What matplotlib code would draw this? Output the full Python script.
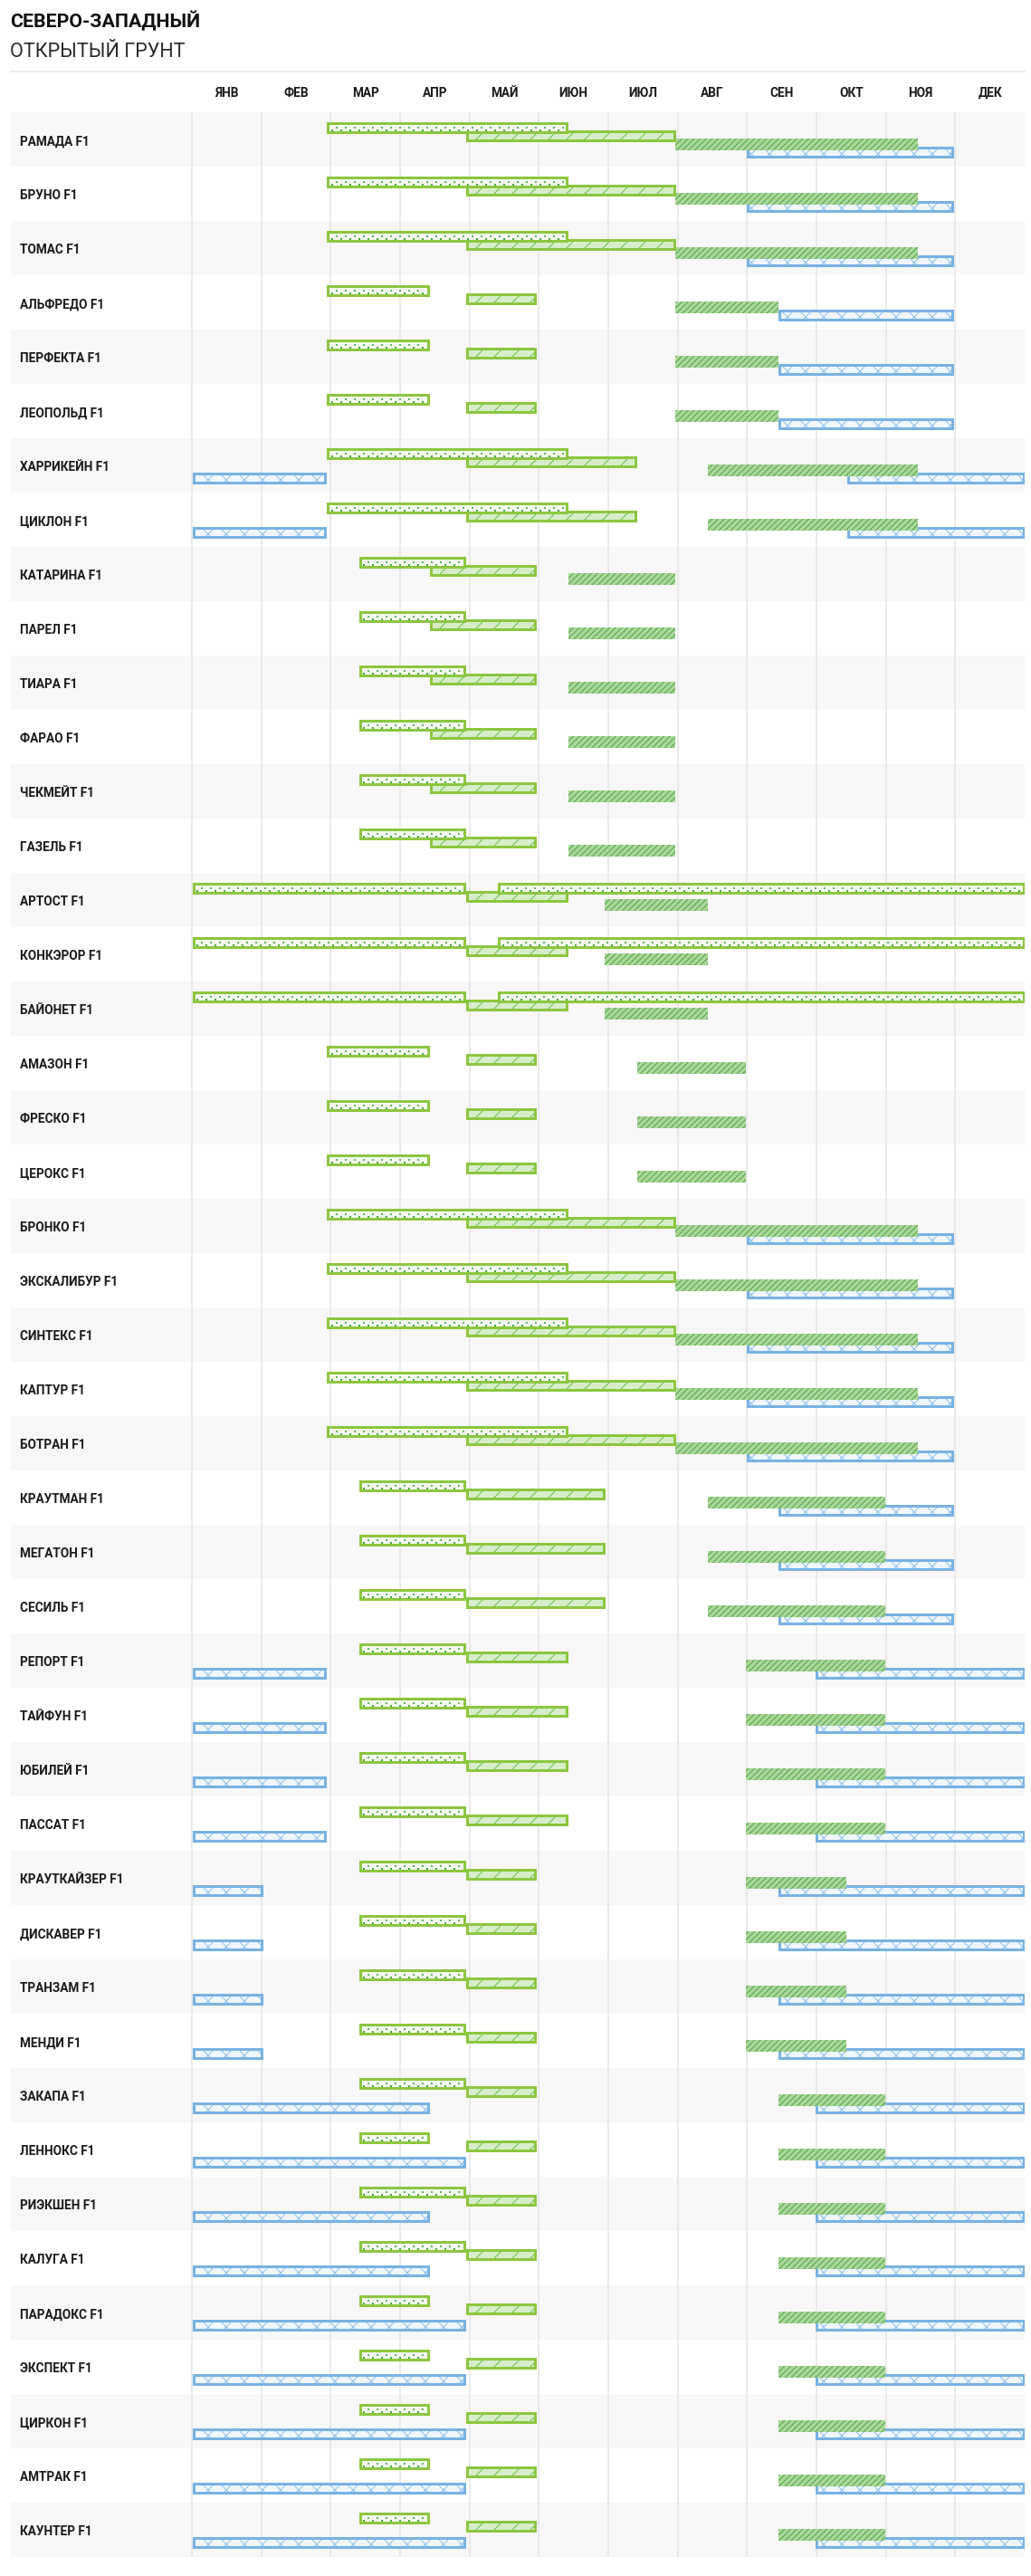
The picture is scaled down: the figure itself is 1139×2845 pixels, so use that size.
import numpy as np
import matplotlib.pyplot as plt

plt.rcParams['font.family'] = ['Roboto', 'DejaVu Sans']
plt.rcParams['hatch.linewidth'] = 0.6

months = ['ЯНВ', 'ФЕВ', 'МАР', 'АПР', 'МАЙ', 'ИЮН', 'ИЮЛ', 'АВГ', 'СЕН', 'ОКТ', 'НОЯ', 'ДЕК']

varieties = ['РАМАДА F1', 'БРУНО F1', 'ТОМАС F1', 'АЛЬФРЕДО F1', 'ПЕРФЕКТА F1', 'ЛЕОПОЛЬД F1',
             'ХАРРИКЕЙН F1', 'ЦИКЛОН F1', 'КАТАРИНА F1', 'ПАРЕЛ F1', 'ТИАРА F1', 'ФАРАО F1',
             'ЧЕКМЕЙТ F1', 'ГАЗЕЛЬ F1', 'АРТОСТ F1', 'КОНКЭРОР F1', 'БАЙОНЕТ F1', 'АМАЗОН F1',
             'ФРЕСКО F1', 'ЦЕРОКС F1', 'БРОНКО F1', 'ЭКСКАЛИБУР F1', 'СИНТЕКС F1', 'КАПТУР F1',
             'БОТРАН F1', 'КРАУТМАН F1', 'МЕГАТОН F1', 'СЕСИЛЬ F1', 'РЕПОРТ F1', 'ТАЙФУН F1',
             'ЮБИЛЕЙ F1', 'ПАССАТ F1', 'КРАУТКАЙЗЕР F1', 'ДИСКАВЕР F1', 'ТРАНЗАМ F1', 'МЕНДИ F1',
             'ЗАКАПА F1', 'ЛЕННОКС F1', 'РИЭКШЕН F1', 'КАЛУГА F1', 'ПАРАДОКС F1', 'ЭКСПЕКТ F1',
             'ЦИРКОН F1', 'АМТРАК F1', 'КАУНТЕР F1']

# periods as (month, day) -> (month, day); (13, 1) = end of year
seedling = [
    [((3, 1), (6, 15))], [((3, 1), (6, 15))], [((3, 1), (6, 15))],
    [((3, 1), (4, 15))], [((3, 1), (4, 15))], [((3, 1), (4, 15))],
    [((3, 1), (6, 15))], [((3, 1), (6, 15))],
    [((3, 15), (5, 1))], [((3, 15), (5, 1))], [((3, 15), (5, 1))],
    [((3, 15), (5, 1))], [((3, 15), (5, 1))], [((3, 15), (5, 1))],
    [((1, 1), (5, 1)), ((5, 15), (13, 1))], [((1, 1), (5, 1)), ((5, 15), (13, 1))],
    [((1, 1), (5, 1)), ((5, 15), (13, 1))],
    [((3, 1), (4, 15))], [((3, 1), (4, 15))], [((3, 1), (4, 15))],
    [((3, 1), (6, 15))], [((3, 1), (6, 15))], [((3, 1), (6, 15))], [((3, 1), (6, 15))], [((3, 1), (6, 15))],
    [((3, 15), (5, 1))], [((3, 15), (5, 1))], [((3, 15), (5, 1))],
    [((3, 15), (5, 1))], [((3, 15), (5, 1))], [((3, 15), (5, 1))], [((3, 15), (5, 1))],
    [((3, 15), (5, 1))], [((3, 15), (5, 1))], [((3, 15), (5, 1))], [((3, 15), (5, 1))],
    [((3, 15), (5, 1))], [((3, 15), (4, 15))], [((3, 15), (5, 1))], [((3, 15), (5, 1))], [((3, 15), (4, 15))],
    [((3, 15), (4, 15))], [((3, 15), (4, 15))], [((3, 15), (4, 15))], [((3, 15), (4, 15))],
]
planting = [
    [((5, 1), (8, 1))], [((5, 1), (8, 1))], [((5, 1), (8, 1))],
    [((5, 1), (6, 1))], [((5, 1), (6, 1))], [((5, 1), (6, 1))],
    [((5, 1), (7, 15))], [((5, 1), (7, 15))],
    [((4, 15), (6, 1))], [((4, 15), (6, 1))], [((4, 15), (6, 1))],
    [((4, 15), (6, 1))], [((4, 15), (6, 1))], [((4, 15), (6, 1))],
    [((5, 1), (6, 15))], [((5, 1), (6, 15))], [((5, 1), (6, 15))],
    [((5, 1), (6, 1))], [((5, 1), (6, 1))], [((5, 1), (6, 1))],
    [((5, 1), (8, 1))], [((5, 1), (8, 1))], [((5, 1), (8, 1))], [((5, 1), (8, 1))], [((5, 1), (8, 1))],
    [((5, 1), (7, 1))], [((5, 1), (7, 1))], [((5, 1), (7, 1))],
    [((5, 1), (6, 15))], [((5, 1), (6, 15))], [((5, 1), (6, 15))], [((5, 1), (6, 15))],
    [((5, 1), (6, 1))], [((5, 1), (6, 1))], [((5, 1), (6, 1))], [((5, 1), (6, 1))],
    [((5, 1), (6, 1))], [((5, 1), (6, 1))], [((5, 1), (6, 1))], [((5, 1), (6, 1))], [((5, 1), (6, 1))],
    [((5, 1), (6, 1))], [((5, 1), (6, 1))], [((5, 1), (6, 1))], [((5, 1), (6, 1))],
]
harvest = [
    [((8, 1), (11, 15))], [((8, 1), (11, 15))], [((8, 1), (11, 15))],
    [((8, 1), (9, 15))], [((8, 1), (9, 15))], [((8, 1), (9, 15))],
    [((8, 15), (11, 15))], [((8, 15), (11, 15))],
    [((6, 15), (8, 1))], [((6, 15), (8, 1))], [((6, 15), (8, 1))],
    [((6, 15), (8, 1))], [((6, 15), (8, 1))], [((6, 15), (8, 1))],
    [((7, 1), (8, 15))], [((7, 1), (8, 15))], [((7, 1), (8, 15))],
    [((7, 15), (9, 1))], [((7, 15), (9, 1))], [((7, 15), (9, 1))],
    [((8, 1), (11, 15))], [((8, 1), (11, 15))], [((8, 1), (11, 15))], [((8, 1), (11, 15))], [((8, 1), (11, 15))],
    [((8, 15), (11, 1))], [((8, 15), (11, 1))], [((8, 15), (11, 1))],
    [((9, 1), (11, 1))], [((9, 1), (11, 1))], [((9, 1), (11, 1))], [((9, 1), (11, 1))],
    [((9, 1), (10, 15))], [((9, 1), (10, 15))], [((9, 1), (10, 15))], [((9, 1), (10, 15))],
    [((9, 15), (11, 1))], [((9, 15), (11, 1))], [((9, 15), (11, 1))], [((9, 15), (11, 1))], [((9, 15), (11, 1))],
    [((9, 15), (11, 1))], [((9, 15), (11, 1))], [((9, 15), (11, 1))], [((9, 15), (11, 1))],
]
storage = [
    [((9, 1), (12, 1))], [((9, 1), (12, 1))], [((9, 1), (12, 1))],
    [((9, 15), (12, 1))], [((9, 15), (12, 1))], [((9, 15), (12, 1))],
    [((1, 1), (3, 1)), ((10, 15), (13, 1))], [((1, 1), (3, 1)), ((10, 15), (13, 1))],
    [], [], [], [], [], [],
    [], [], [],
    [], [], [],
    [((9, 1), (12, 1))], [((9, 1), (12, 1))], [((9, 1), (12, 1))], [((9, 1), (12, 1))], [((9, 1), (12, 1))],
    [((9, 15), (12, 1))], [((9, 15), (12, 1))], [((9, 15), (12, 1))],
    [((1, 1), (3, 1)), ((10, 1), (13, 1))], [((1, 1), (3, 1)), ((10, 1), (13, 1))],
    [((1, 1), (3, 1)), ((10, 1), (13, 1))], [((1, 1), (3, 1)), ((10, 1), (13, 1))],
    [((1, 1), (2, 1)), ((9, 15), (13, 1))], [((1, 1), (2, 1)), ((9, 15), (13, 1))],
    [((1, 1), (2, 1)), ((9, 15), (13, 1))], [((1, 1), (2, 1)), ((9, 15), (13, 1))],
    [((1, 1), (4, 15)), ((10, 1), (13, 1))], [((1, 1), (5, 1)), ((10, 1), (13, 1))],
    [((1, 1), (4, 15)), ((10, 1), (13, 1))], [((1, 1), (4, 15)), ((10, 1), (13, 1))],
    [((1, 1), (5, 1)), ((10, 1), (13, 1))], [((1, 1), (5, 1)), ((10, 1), (13, 1))],
    [((1, 1), (5, 1)), ((10, 1), (13, 1))], [((1, 1), (5, 1)), ((10, 1), (13, 1))],
    [((1, 1), (5, 1)), ((10, 1), (13, 1))],
]

month_days = [31, 28, 31, 30, 31, 30, 31, 31, 30, 31, 30, 31]
month_start = np.concatenate([[0], np.cumsum(month_days)])  # 13 values, last = 365


def doy(md):
    m, d = md
    return month_start[m - 1] + d - 1


DPI = 120
W, H = 1139, 2845
fig = plt.figure(figsize=(W / DPI, H / DPI), dpi=DPI)
fig.patch.set_facecolor('white')

# layout in pixels
left_px, right_px, top_px, bottom_px = 12, 1132, 124, 2824
jan_px = 212
day_px = (right_px - jan_px) / 365
n = len(varieties)
row_px = (bottom_px - top_px) / n

ax = fig.add_axes([left_px / W, 1 - bottom_px / H, (right_px - left_px) / W, (bottom_px - top_px) / H])
x0 = (left_px - jan_px) / day_px
ax.set_xlim(x0, 365)
ax.set_ylim(n, 0)
ax.axis('off')

# alternating row bands
for i in range(0, n, 2):
    ax.axhspan(i, i + 1, color='#f7f7f7', lw=0, zorder=0)

# month grid: twelve equal columns
col = 365 / 12
ax.vlines(np.arange(12) * col, 0, n, color='#e4e4e4', lw=1.5 * 72 / DPI, zorder=0.5)

# header line + month names
ax.axhline((79 - top_px) / row_px, color='#e6e6e6', lw=1.5 * 72 / DPI, clip_on=False)
for m, name in enumerate(months):
    ax.text((m + 0.5) * col, (107 - top_px) / row_px, name, ha='center', va='baseline',
            fontsize=8.2, fontweight='bold', color='#1a1a1a', clip_on=False)

for i, name in enumerate(varieties):
    ax.text(x0 + 10 / day_px, i + 36.5 / row_px, name, ha='left', va='baseline',
            fontsize=8.2, fontweight='bold', color='#1a1a1a')

lw_edge = 3 * 72 / DPI


def draw(series, center, height, face, hatch, hcolor, edge, z):
    ins = 1.5 / day_px if edge else 0
    for i, segs in enumerate(series):
        if not segs:
            continue
        spans = [(doy(a) + ins, doy(b) - doy(a) - 2 * ins) for a, b in segs]
        y = i + (center - height / 2) / row_px
        h = height / row_px
        ax.broken_barh(spans, (y, h), facecolors=face, edgecolors=hcolor,
                       linewidth=0, hatch=hatch, zorder=z)
        if edge:
            ax.broken_barh(spans, (y, h), facecolors='none', edgecolors=edge,
                           linewidth=lw_edge, zorder=z + 0.1, joinstyle='miter')


def dots(series, center, z):
    # staggered dot texture inside the seedling bars
    step = 10 / day_px
    rows = [(-3.4, 0.0, '#9ad585'), (0.0, 0.5, '#5cb85c'), (3.4, 0.0, '#45ab3c')]
    for i, segs in enumerate(series):
        for a, b in segs:
            for dy, off, c in rows:
                xs = np.arange(doy(a) + 6 / day_px + off * step, doy(b) - 4 / day_px, step)
                ys = np.full(len(xs), i + (center + dy) / row_px)
                ax.scatter(xs, ys, s=1.6, marker='s', color=c, linewidths=0, zorder=z)


draw(storage, 43.6, 10, '#eff6fd', 'xx', '#8fc1ea', '#78b2e2', 1)
draw(harvest, 35, 13, '#a9d899', '//////', '#57a04b', None, 2)
draw(planting, 26, 10, '#d7edc9', '//', '#6bbd4b', '#8cc63f', 3)
draw(seedling, 16.7, 10, '#f3f9ef', None, 'none', '#8cc63f', 4)
dots(seedling, 16.7, 4.05)

fig.text(11 / W, 1 - 30 / H, 'СЕВЕРО-ЗАПАДНЫЙ', ha='left', va='baseline',
         fontsize=12.8, fontweight='bold', color='#111111')
fig.text(11 / W, 1 - 63 / H, 'ОТКРЫТЫЙ ГРУНТ', ha='left', va='baseline',
         fontsize=13, fontweight='normal', color='#2a2a2a')

fig.savefig('out.png', dpi=DPI)
